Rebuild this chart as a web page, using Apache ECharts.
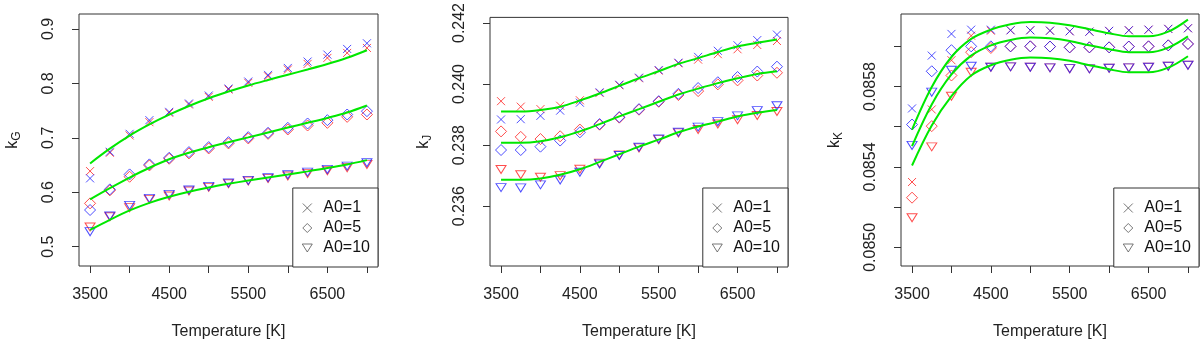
<!DOCTYPE html>
<html>
<head>
<meta charset="utf-8">
<script src="https://cdn.jsdelivr.net/npm/echarts@6/dist/echarts.min.js"></script>
<style>
  html, body { margin: 0; padding: 0; background: #fff; }
  #chart { width: 1200px; height: 345px; }
</style>
</head>
<body>
<div id="chart"></div>
<script>
var temps = [3500, 3750, 4000, 4250, 4500, 4750, 5000, 5250, 5500, 5750, 6000, 6250, 6500, 6750, 7000];
var xTicks = [3500, 4000, 4500, 5000, 5500, 6000, 6500, 7000];
var xLabels = [3500, 4500, 5500, 6500];

// k_G
var gA1Red  = [0.6388, 0.6725, 0.7043, 0.7287, 0.7459, 0.7612, 0.7752, 0.7887, 0.8009, 0.8131, 0.8254, 0.8358, 0.8468, 0.8560, 0.8651];
var gA1Blue = [0.6254, 0.6743, 0.7073, 0.7324, 0.7477, 0.7630, 0.7777, 0.7905, 0.8034, 0.8156, 0.8284, 0.8401, 0.8529, 0.8633, 0.8737];
var gA1Fit  = [0.6529, 0.6800, 0.7040, 0.7245, 0.7425, 0.7585, 0.7727, 0.7850, 0.7962, 0.8063, 0.8160, 0.8255, 0.8355, 0.8470, 0.8609];
var gA5Red  = [0.5795, 0.6034, 0.6284, 0.6492, 0.6615, 0.6713, 0.6804, 0.6896, 0.6988, 0.7073, 0.7153, 0.7226, 0.7275, 0.7385, 0.7428];
var gA5Blue = [0.5673, 0.6052, 0.6327, 0.6511, 0.6633, 0.6737, 0.6829, 0.6920, 0.7012, 0.7092, 0.7183, 0.7263, 0.7324, 0.7428, 0.7489];
var gA5Fit  = [0.5869, 0.6075, 0.6270, 0.6450, 0.6605, 0.6725, 0.6825, 0.6918, 0.7008, 0.7098, 0.7188, 0.7275, 0.7365, 0.7465, 0.7593];
var gA10Red  = [0.5361, 0.5550, 0.5716, 0.5869, 0.5930, 0.6021, 0.6089, 0.6156, 0.6205, 0.6254, 0.6297, 0.6346, 0.6394, 0.6450, 0.6511];
var gA10Blue = [0.5275, 0.5563, 0.5758, 0.5887, 0.5960, 0.6040, 0.6107, 0.6168, 0.6217, 0.6266, 0.6321, 0.6370, 0.6419, 0.6480, 0.6541];
var gA10Fit  = [0.5306, 0.5492, 0.5665, 0.5805, 0.5917, 0.6009, 0.6087, 0.6154, 0.6215, 0.6272, 0.6327, 0.6383, 0.6443, 0.6510, 0.6590];
var gTicks = [0.5, 0.6, 0.7, 0.8, 0.9];

// k_J
var jA1Red  = [0.23944, 0.23926, 0.23918, 0.23929, 0.23947, 0.23971, 0.23996, 0.24019, 0.24044, 0.24068, 0.24080, 0.24098, 0.24114, 0.24128, 0.24141];
var jA1Blue = [0.23884, 0.23885, 0.23896, 0.23913, 0.23939, 0.23973, 0.23998, 0.24021, 0.24046, 0.24070, 0.24089, 0.24109, 0.24127, 0.24144, 0.24162];
var jA1Fit  = [0.23910, 0.23910, 0.23915, 0.23926, 0.23946, 0.23969, 0.23994, 0.24019, 0.24042, 0.24066, 0.24085, 0.24105, 0.24123, 0.24135, 0.24146];
var jA5Red  = [0.23845, 0.23827, 0.23820, 0.23829, 0.23851, 0.23867, 0.23890, 0.23916, 0.23942, 0.23964, 0.23977, 0.23999, 0.24012, 0.24028, 0.24037];
var jA5Blue = [0.23784, 0.23784, 0.23795, 0.23815, 0.23842, 0.23869, 0.23892, 0.23918, 0.23944, 0.23968, 0.23987, 0.24006, 0.24023, 0.24041, 0.24057];
var jA5Fit  = [0.23808, 0.23808, 0.23813, 0.23826, 0.23845, 0.23869, 0.23894, 0.23918, 0.23942, 0.23966, 0.23985, 0.24003, 0.24019, 0.24033, 0.24042];
var jA10Red  = [0.23720, 0.23703, 0.23695, 0.23700, 0.23721, 0.23741, 0.23768, 0.23791, 0.23818, 0.23840, 0.23851, 0.23869, 0.23883, 0.23897, 0.23910];
var jA10Blue = [0.23661, 0.23660, 0.23670, 0.23686, 0.23711, 0.23738, 0.23766, 0.23793, 0.23820, 0.23842, 0.23859, 0.23877, 0.23896, 0.23913, 0.23929];
var jA10Fit  = [0.23687, 0.23687, 0.23691, 0.23703, 0.23721, 0.23745, 0.23770, 0.23795, 0.23818, 0.23842, 0.23861, 0.23877, 0.23894, 0.23906, 0.23915];
var jTicks = [0.236, 0.238, 0.240, 0.242];

// k_K
var kA1Red  = [0.085325, 0.085686, 0.085931, 0.086053, 0.086078, 0.086080, 0.086080, 0.086078, 0.086075, 0.086073, 0.086077, 0.086080, 0.086083, 0.086087, 0.086090];
var kA1Blue = [0.085691, 0.085954, 0.086062, 0.086083, 0.086083, 0.086080, 0.086080, 0.086078, 0.086075, 0.086073, 0.086077, 0.086080, 0.086083, 0.086087, 0.086090];
var kA1Fit  = [0.085586, 0.085798, 0.085947, 0.086037, 0.086083, 0.086110, 0.086121, 0.086118, 0.086105, 0.086085, 0.086065, 0.086050, 0.086050, 0.086073, 0.086133];
var kA5Red  = [0.085247, 0.085603, 0.085855, 0.085971, 0.085992, 0.086000, 0.086000, 0.085999, 0.085995, 0.085995, 0.085995, 0.085999, 0.086000, 0.086005, 0.086012];
var kA5Blue = [0.085611, 0.085876, 0.085981, 0.086000, 0.086000, 0.086000, 0.086000, 0.085999, 0.085995, 0.085995, 0.085995, 0.085999, 0.086000, 0.086005, 0.086012];
var kA5Fit  = [0.085504, 0.085711, 0.085860, 0.085954, 0.086005, 0.086032, 0.086044, 0.086040, 0.086027, 0.086005, 0.085986, 0.085971, 0.085971, 0.085994, 0.086050];
var kA10Red  = [0.085147, 0.085500, 0.085752, 0.085871, 0.085896, 0.085898, 0.085896, 0.085893, 0.085889, 0.085888, 0.085891, 0.085893, 0.085896, 0.085901, 0.085906];
var kA10Blue = [0.085507, 0.085772, 0.085881, 0.085901, 0.085896, 0.085898, 0.085896, 0.085893, 0.085889, 0.085888, 0.085891, 0.085893, 0.085896, 0.085901, 0.085906];
var kA10Fit  = [0.085407, 0.085606, 0.085752, 0.085855, 0.085906, 0.085933, 0.085944, 0.085941, 0.085928, 0.085906, 0.085886, 0.085871, 0.085871, 0.085894, 0.085951];
var kTicks = [0.0850, 0.0852, 0.0854, 0.0856, 0.0858, 0.0860];
var kLabels = [0.0850, 0.0854, 0.0858];

var legendNames = ['A0=1', 'A0=5', 'A0=10'];

var FONT = 'Liberation Sans';
var crossPath = 'path://M0,0L10,10M0,10L10,0';
var diamondPath = 'path://M5,0L10,5L5,10L0,5Z';
var triPath = 'path://M0,0L10,0L5,8Z';
var symbols = [crossPath, diamondPath, triPath];
var symbolSizes = [8, 11, [10, 8]];

function pairs(ys) {
	var out = [];
	for (var i = 0; i < temps.length; i++) out.push([temps[i], ys[i]]);
	return out;
}

var panels = [
	{ sub: 'G', min: 0.4644, max: 0.9275, ticks: gTicks, labels: gTicks, dec: 1,
	  red: [gA1Red, gA5Red, gA10Red], blue: [gA1Blue, gA5Blue, gA10Blue], fit: [gA1Fit, gA5Fit, gA10Fit],
	  box: { left: 79, width: 299 } },
	{ sub: 'J', min: 0.234042, max: 0.242184, ticks: jTicks, labels: jTicks, dec: 3,
	  red: [jA1Red, jA5Red, jA10Red], blue: [jA1Blue, jA5Blue, jA10Blue], fit: [jA1Fit, jA5Fit, jA10Fit],
	  box: { left: 490, width: 298 } },
	{ sub: 'K', min: 0.084907, max: 0.086161, ticks: kTicks, labels: kLabels, dec: 4,
	  red: [kA1Red, kA5Red, kA10Red], blue: [kA1Blue, kA5Blue, kA10Blue], fit: [kA1Fit, kA5Fit, kA10Fit],
	  box: { left: 901, width: 298 } }
];

var grids = [], xAxes = [], yAxes = [], series = [], legends = [];

panels.forEach(function(p, i) {
	grids.push({
		left: p.box.left, top: 14, width: p.box.width, height: 253,
		show: true, borderColor: '#333', borderWidth: 1, backgroundColor: 'transparent'
	});
	xAxes.push({
		type: 'value', gridIndex: i, min: 3360, max: 7140,
		splitLine: { show: false },
		axisLine: { show: false },
		axisTick: { length: 7, lineStyle: { color: '#333' }, customValues: xTicks },
		axisLabel: {
			customValues: xLabels, fontSize: 16, color: '#222', fontFamily: FONT, margin: 21,
			formatter: function(v) { return String(v); }
		},
		name: 'Temperature [K]', nameLocation: 'middle', nameGap: 58,
		nameTextStyle: { fontSize: 16, color: '#222', fontFamily: FONT }
	});
	yAxes.push({
		type: 'value', gridIndex: i, min: p.min, max: p.max,
		splitLine: { show: false },
		axisLine: { show: false },
		axisTick: { length: 7, lineStyle: { color: '#333' }, customValues: p.ticks },
		axisLabel: {
			customValues: p.labels, rotate: 90, fontSize: 16, color: '#222', fontFamily: FONT, margin: 22,
			formatter: function(v) { return v.toFixed(p.dec); }
		},
		name: '{k|k}{s|' + p.sub + '}', nameLocation: 'middle', nameRotate: 90, nameGap: 58,
		nameTextStyle: {
			color: '#222', fontFamily: FONT,
			rich: {
				k: { fontSize: 16, lineHeight: 16, verticalAlign: 'top', color: '#222', fontFamily: FONT },
				s: { fontSize: 12, lineHeight: 12, padding: [8, 0, 0, 0], color: '#222', fontFamily: FONT }
			}
		}
	});
	for (var g = 0; g < 3; g++) {
		series.push({
			name: legendNames[g], type: 'scatter', xAxisIndex: i, yAxisIndex: i,
			symbol: symbols[g], symbolSize: symbolSizes[g],
			itemStyle: { color: 'transparent', borderColor: '#ff2020', borderWidth: 1 },
			data: pairs(p.red[g]), z: 2
		});
		series.push({
			name: legendNames[g], type: 'scatter', xAxisIndex: i, yAxisIndex: i,
			symbol: symbols[g], symbolSize: symbolSizes[g],
			itemStyle: { color: 'transparent', borderColor: '#2020ff', borderWidth: 1 },
			data: pairs(p.blue[g]), z: 3
		});
		series.push({
			name: 'fit', type: 'line', xAxisIndex: i, yAxisIndex: i,
			symbol: 'none', smooth: 0.35,
			lineStyle: { color: '#00e800', width: 2 },
			data: pairs(p.fit[g]), z: 4
		});
	}
	legends.push({
		right: 1200 - (p.box.left + p.box.width), bottom: 78,
		orient: 'vertical', selectedMode: false,
		padding: [12, 8, 11, 9],
		itemWidth: 10, itemHeight: 9, itemGap: 4,
		borderColor: '#333', borderWidth: 1, backgroundColor: '#fff',
		itemStyle: { color: 'transparent', borderColor: '#555', borderWidth: 1 },
		textStyle: { fontSize: 16, lineHeight: 16, color: '#111', fontFamily: FONT, padding: [0, 0, 0, 6] },
		data: [
			{ name: 'A0=1', icon: crossPath },
			{ name: 'A0=5', icon: diamondPath },
			{ name: 'A0=10', icon: triPath }
		]
	});
});

var chart = echarts.init(document.getElementById('chart'));
chart.setOption({
	animation: false,
	backgroundColor: '#fff',
	textStyle: { fontFamily: FONT },
	grid: grids,
	xAxis: xAxes,
	yAxis: yAxes,
	legend: legends,
	series: series
});
</script>
</body>
</html>
